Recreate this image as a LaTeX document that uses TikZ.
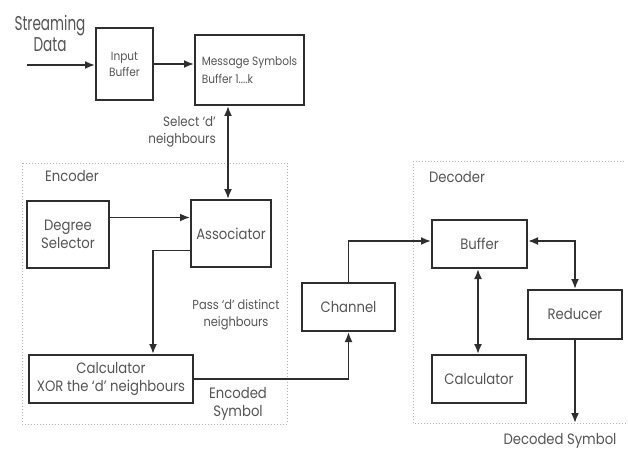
\documentclass[tikz,border=0pt]{standalone}
\usepackage{fontspec}
\setmainfont{Poppins}[FakeStretch=0.88]
\newfontfamily\narrowfont{Poppins}[FakeStretch=0.68]
\usetikzlibrary{arrows.meta}
\definecolor{txtgray}{HTML}{555555}
\definecolor{linegray}{HTML}{2E2E2E}

\begin{document}
\begin{tikzpicture}[x=1pt, y=-1pt, line cap=butt,
  font=\fontsize{15}{18.5}\selectfont, text=txtgray,
  block/.style={draw=linegray, line width=2pt, align=center, inner sep=2pt},
  flow/.style={draw=linegray, line width=1.8pt, -{Latex[length=10pt,width=8pt]}},
  flows/.style={flow, {Latex[length=10pt,width=8pt]}-{Latex[length=10pt,width=8pt]}},
  region/.style={draw=gray!60, dotted, line width=1pt},
  note/.style={align=center, inner sep=0pt}]
  \useasboundingbox (0,0) rectangle (628,449);
  % regions
  \draw[region] (22,163) rectangle (287,424);
  \draw[region] (413,161) -- (626,161) (413,161) -- (413,423) -- (626,423);
  \node[note] (enclabel) at (72,176) {Encoder};
  \node[note] (declabel) at (457,177) {Decoder};
  % input side
  \node[note, font=\narrowfont\fontsize{20}{21}\selectfont] (stream) at (50,33) {Streaming\\Data};
  \coordinate (src) at (27,65);
  \node[block, minimum width=57, minimum height=72, font=\fontsize{12}{16}\selectfont] (inbuf) at (124.5,64) {Input\\Buffer};
  \node[block, minimum width=109, minimum height=70, align=left, font=\fontsize{12}{18}\selectfont] (msgbuf) at (249.5,70) {Message Symbols\\Buffer 1....k};
  % encoder
  \node[block, minimum width=82, minimum height=67] (degsel) at (68,234.5) {Degree\\Selector};
  \node[block, minimum width=80, minimum height=67] (assoc) at (231,233.5) {Associator};
  \node[block, minimum width=164, minimum height=48] (enccalc) at (111,379) {Calculator\\XOR the `d' neighbours};
  \node[block, minimum width=93, minimum height=48] (channel) at (348.5,307) {Channel};
  % decoder
  \node[block, minimum width=95, minimum height=48] (decbuf) at (479.5,244) {Buffer};
  \node[block, minimum width=94, minimum height=48] (deccalc) at (479,379) {Calculator};
  \node[block, minimum width=94, minimum height=49] (reducer) at (575,314.5) {Reducer};
  \coordinate (out) at (575,423);
  % notes
  \node[note, align=right, font=\fontsize{13.5}{17}\selectfont, anchor=east] (selnote) at (216,132) {Select `d'\\neighbours};
  \node[note, font=\fontsize{13}{17}\selectfont] (passnote) at (236,315) {Pass `d' distinct\\neighbours};
  \node[note] (encnote) at (238,404) {Encoded\\Symbol};
  \node[note] (decnote) at (560,441) {Decoded Symbol};
  % connectors
  \draw[flow] (src) -- (inbuf.west |- src);
  \draw[flow] (inbuf.east) -- (inbuf.east -| msgbuf.west);
  \draw[flows] (assoc.north -| 228,0) -- (msgbuf.south -| 228,0);
  \draw[flow] ([yshift=17]degsel.east) -- ([yshift=17]degsel.east -| assoc.west);
  \draw[flow] ([yshift=-17]assoc.west) -| ([xshift=42]enccalc.north);
  \draw[flow] (enccalc.east) -| (channel.south);
  \draw[flow] (channel.north) |- ([yshift=3]decbuf.west);
  \draw[flows] ([yshift=3]decbuf.east) -| (reducer.north);
  \draw[flows] (decbuf.south -| 478,0) -- (deccalc.north -| 478,0);
  \draw[flow] (reducer.south) -- (out);
\end{tikzpicture}
\end{document}
